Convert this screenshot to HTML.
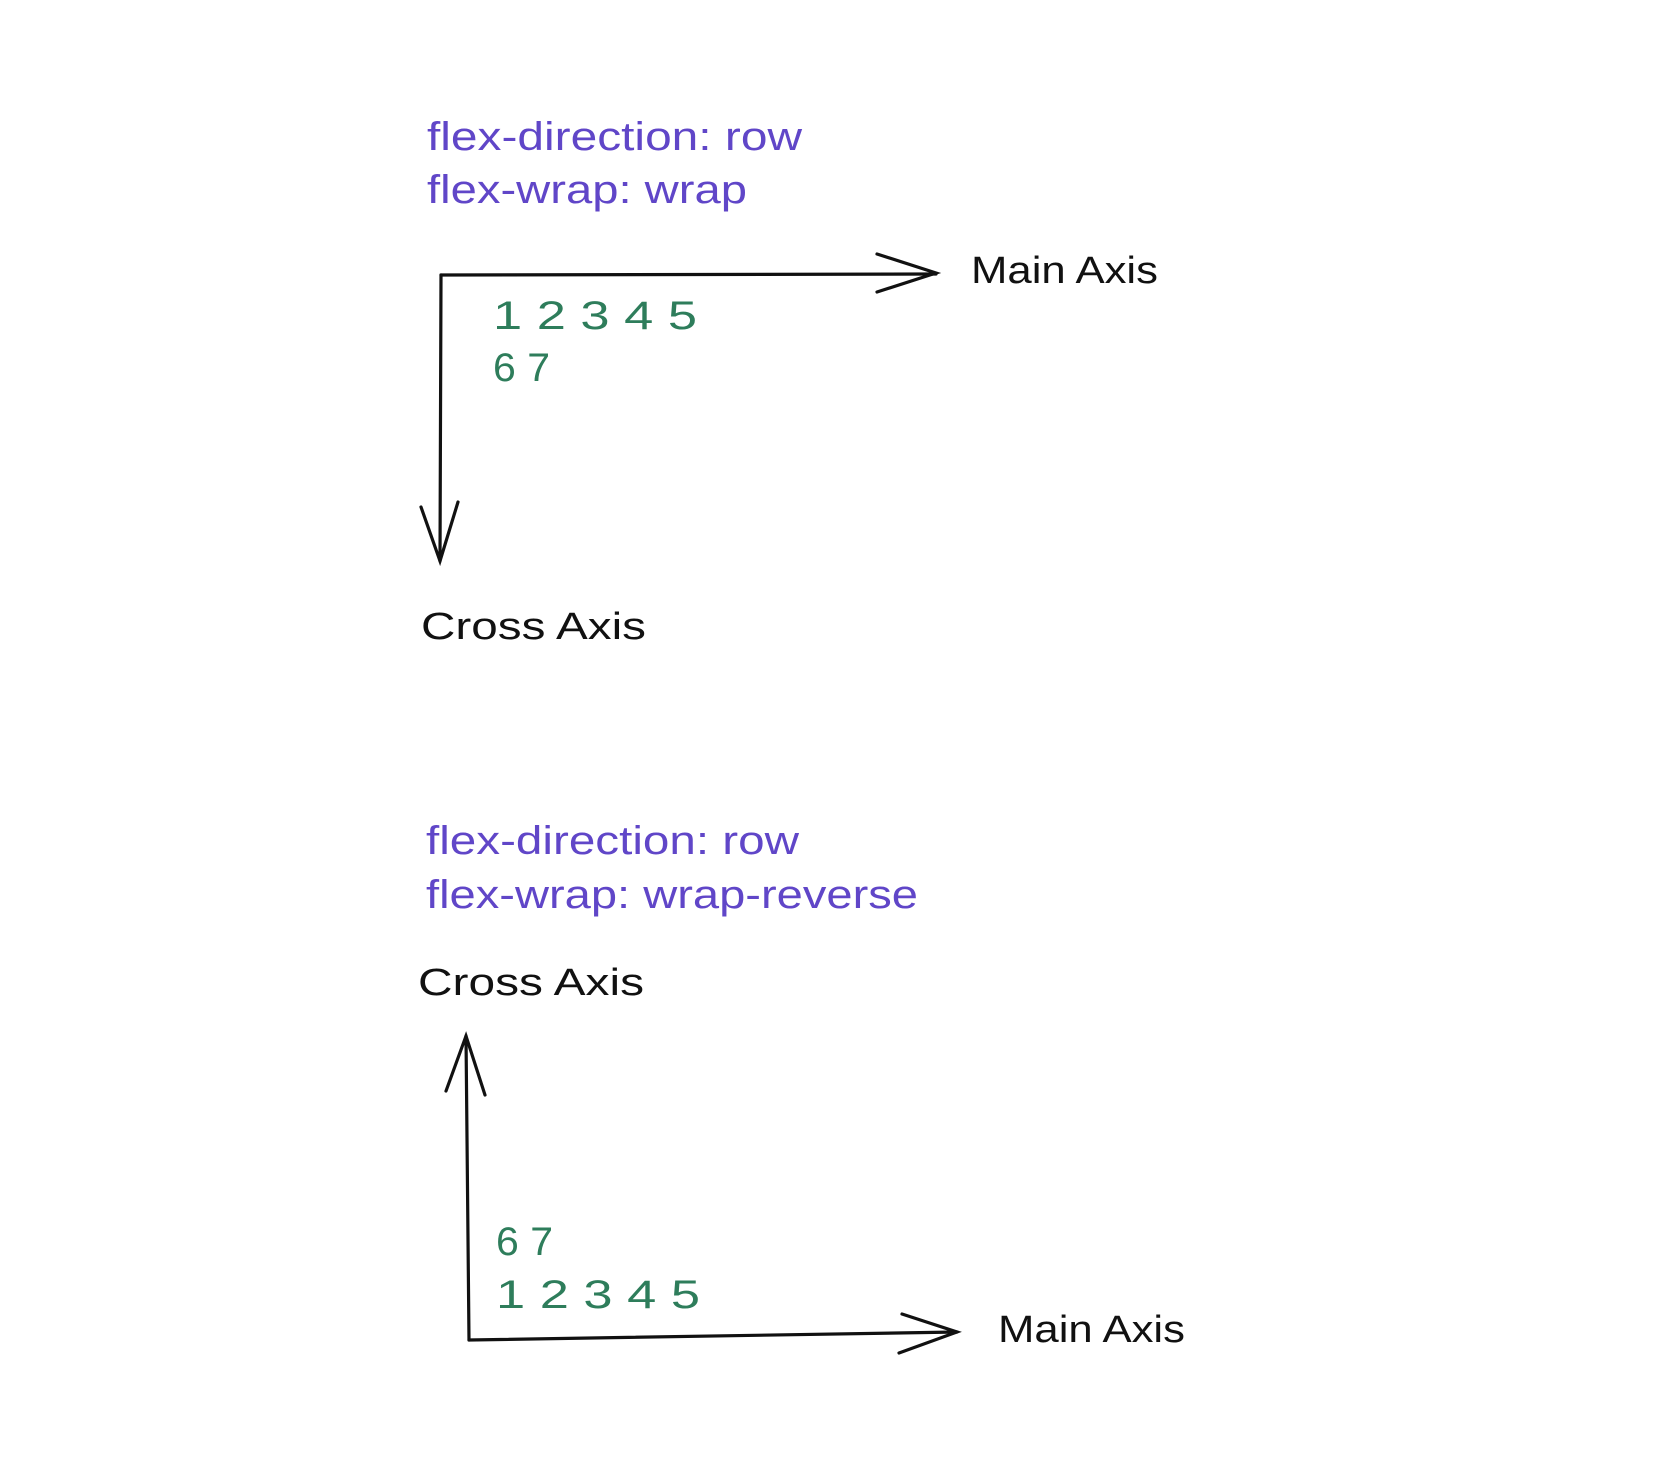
<!DOCTYPE html>
<html><head><meta charset="utf-8"><style>html,body{margin:0;padding:0;background:#fff}svg{display:block}</style></head>
<body>
<svg width="1674" height="1484" viewBox="0 0 1674 1484" xmlns="http://www.w3.org/2000/svg" font-family="'Liberation Sans', sans-serif">
<rect width="1674" height="1484" fill="#fff"/>
<g transform="translate(-3,0)">
<g>
<text x="430" y="150" font-size="40" fill="#6046c8" textLength="375" lengthAdjust="spacingAndGlyphs">flex-direction: row</text>
<text x="430" y="203" font-size="40" fill="#6046c8" textLength="320" lengthAdjust="spacingAndGlyphs">flex-wrap: wrap</text>
<g stroke="#111" stroke-width="3.2" fill="none" stroke-linecap="round">
<path d="M444 275 L939 274"/><path d="M880 254 L939 273 L880 292"/></g>
<g stroke="#111" stroke-width="3.2" fill="none" stroke-linecap="round">
<path d="M444 275 L443 561"/><path d="M424 507 L443 561 L461 502"/></g>
<text x="974" y="283" font-size="38" fill="#111" textLength="187" lengthAdjust="spacingAndGlyphs">Main Axis</text>
<text x="424" y="639" font-size="38" fill="#111" textLength="225" lengthAdjust="spacingAndGlyphs">Cross Axis</text>
<text x="496" y="329" font-size="40" fill="#2e7d5b" textLength="204" lengthAdjust="spacingAndGlyphs">1 2 3 4 5</text>
<text x="496" y="381" font-size="40" fill="#2e7d5b" textLength="57" lengthAdjust="spacingAndGlyphs">6 7</text>
</g>
<g>
<text x="429" y="854" font-size="40" fill="#6046c8" textLength="373" lengthAdjust="spacingAndGlyphs">flex-direction: row</text>
<text x="429" y="908" font-size="40" fill="#6046c8" textLength="492" lengthAdjust="spacingAndGlyphs">flex-wrap: wrap-reverse</text>
<text x="421" y="995" font-size="38" fill="#111" textLength="226" lengthAdjust="spacingAndGlyphs">Cross Axis</text>
<g stroke="#111" stroke-width="3.2" fill="none" stroke-linecap="round">
<path d="M472 1340 L469 1036"/><path d="M449 1091 L469 1036 L488 1095"/></g>
<g stroke="#111" stroke-width="3.2" fill="none" stroke-linecap="round">
<path d="M472 1340 L960 1332"/><path d="M905 1314 L960 1332 L902 1353"/></g>
<text x="1001" y="1342" font-size="38" fill="#111" textLength="187" lengthAdjust="spacingAndGlyphs">Main Axis</text>
<text x="499" y="1255" font-size="40" fill="#2e7d5b" textLength="57" lengthAdjust="spacingAndGlyphs">6 7</text>
<text x="499" y="1308" font-size="40" fill="#2e7d5b" textLength="204" lengthAdjust="spacingAndGlyphs">1 2 3 4 5</text>
</g>
</g>
</svg>
</body></html>
